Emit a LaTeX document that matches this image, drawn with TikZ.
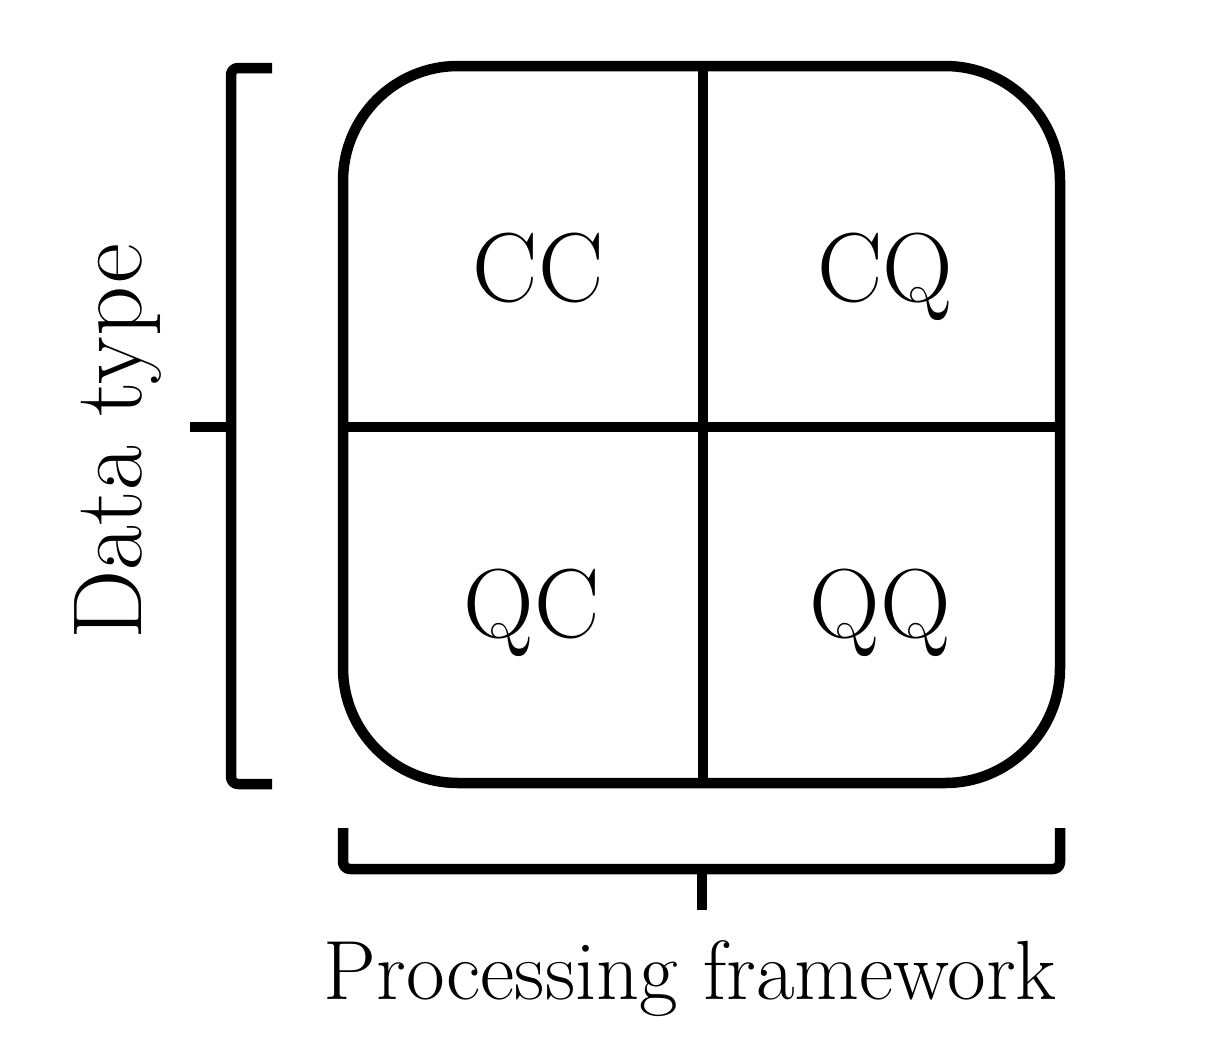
\documentclass[tikz,border=0pt]{standalone}
\begin{document}
\begin{tikzpicture}[x=1pt,y=-1pt,
  frame/.style={line width=10.5pt},
  brace/.style={line width=10.5pt,rounded corners=7pt,line join=round},
  cell/.style={font=\fontsize{98}{104}\selectfont,anchor=base,inner sep=0pt},
  axislabel/.style={font=\fontsize{98}{104}\selectfont,anchor=base,inner sep=0pt}]
\useasboundingbox (0,0) rectangle (1222,1047);
% main rounded square
\draw[frame,rounded corners=115pt] (343,66) rectangle (1060,783);
\coordinate (vt) at (703,66);
\coordinate (vb) at (703,783);
\coordinate (hl) at (343,427);
\coordinate (hr) at (1060,427);
\draw[frame] (vt) -- (vb);
\draw[frame] (hl) -- (hr);
% cell labels
\node[cell] (cc) at (538,301) {CC};
\node[cell] (cq) at (885,301) {CQ};
\node[cell] (qc) at (532,637) {QC};
\node[cell] (qq) at (880,637) {QQ};
% left bracket
\coordinate (lt) at (272,68);
\coordinate (lb) at (272,784);
\coordinate (lm) at (231,427);
\coordinate (lp) at (190,427);
\draw[brace] (lt) -- (231,68) -- (231,784) -- (lb);
\draw[line width=10.5pt] (lp) -- (lm);
% bottom bracket
\coordinate (bl) at (343,828);
\coordinate (br) at (1060,828);
\coordinate (bm) at (702,869);
\coordinate (bp) at (702,910);
\draw[brace] (bl) -- (343,869) -- (1060,869) -- (br);
\draw[line width=10.5pt] (bm) -- (bp);
% axis labels
\node[axislabel,rotate=90] (dt) at (141,442) {Data type};
\node[axislabel,font=\fontsize{84}{90}\selectfont] (pf) at (690,999) {Processing framework};
\end{tikzpicture}
\end{document}
